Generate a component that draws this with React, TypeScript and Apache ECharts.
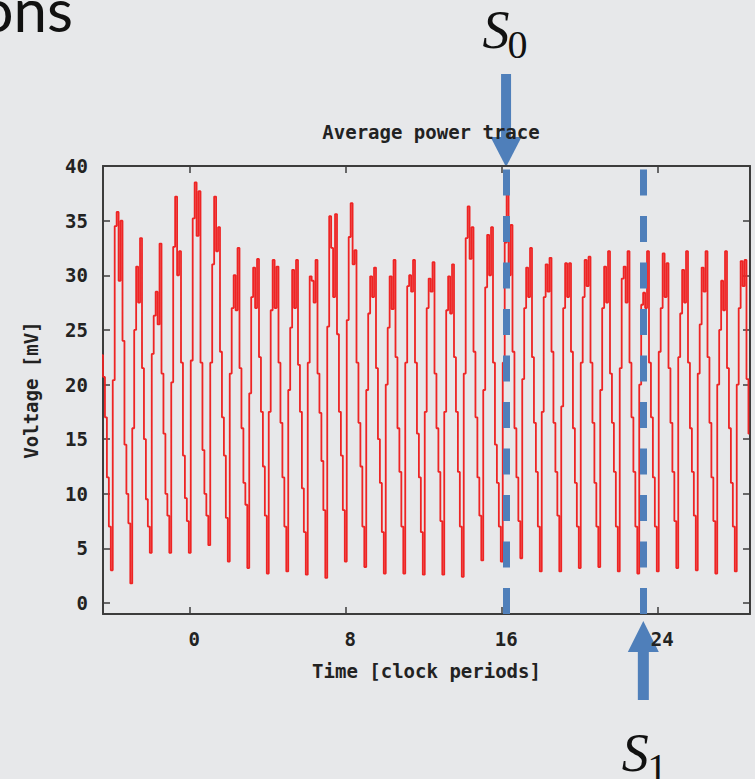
import React, { useEffect, useRef } from 'react';
import * as echarts from 'echarts';

// Sampling grid of the averaged trace (clock periods)
const sampleStart = -4.5;
const sampleStep = 0.1;

// Voltage samples [mV], split by time range
const traceEarly = [
  22.7, 20.7, 17, 11.5, 7,
  3.0, 20.4, 34.5, 35.8, 29.5, 35.0, 24, 14.5, 10, 7.3,
  1.8, 16, 25, 30.8, 27.5, 33.4, 21.5, 15, 9.5, 7,
  4.6, 22.8, 26.3, 28.5, 25.5, 32.9, 21, 15.5, 10, 8,
  4.6, 20.2, 32.6, 37.2, 30, 32.2, 22, 13.5, 9.6, 7.5,
  4.6, 22.2, 35.2, 38.5, 33.6, 37.7, 22, 14, 10, 8,
  5.3, 22, 31, 37.2, 32.2, 34.4, 23, 17, 13.5, 7.8,
  3.8, 21, 27, 30, 26.8, 32.5, 21.5, 16, 11, 9,
  3.2, 19.2, 28, 30.7, 27, 31.5, 22.5, 17.5, 12.5, 8,
];
const traceMid1 = [
  2.7, 17.5, 26.8, 31.4, 27, 30.8, 22, 16.5, 11.5, 7,
  2.9, 19.5, 25.2, 30.5, 27, 31.4, 21.8, 17.5, 10.5, 6.5,
  2.6, 22, 29.9, 29.5, 27.5, 31.4, 21, 17.4, 13, 8.5,
  2.3, 25.3, 35.4, 32.5, 28, 35.6, 24.6, 17.5, 13.5, 8.5,
  3.8, 25.9, 33.5, 36.6, 31, 32.3, 22, 16.5, 12.5, 7,
  3.3, 19.5, 26.5, 29.9, 28, 30.7, 21.5, 15, 11, 6.5,
  2.7, 20, 25.2, 29.9, 26.9, 31.4, 22.5, 16, 12, 7,
  2.7, 22, 29, 30, 28.5, 31.4, 22, 15.5, 11.5, 6.5,
];
const traceMid2 = [
  2.6, 17.5, 27, 29.7, 28.5, 31.2, 21, 16, 12, 7.5,
  2.6, 17.5, 26.8, 29.9, 26.5, 31, 22.5, 17.5, 12, 7,
  2.4, 21, 33.4, 36.3, 31.5, 34.4, 23, 17, 11.5, 8,
  3.9, 19.5, 28.9, 33.7, 30, 34.4, 22, 14.5, 11, 7,
  3.8, 22, 33, 37.4, 30, 34.6, 23, 16, 11.5, 7.5,
  4.1, 20.5, 27, 30.7, 28, 32.5, 22.5, 16.5, 12, 7,
  2.9, 17.5, 28, 31, 28.5, 31.6, 23, 16.5, 12, 8,
  2.9, 18, 27, 31.1, 28, 31.1, 23, 16, 11, 7,
];
const traceLate = [
  3.2, 22, 28, 31.4, 29, 31.7, 22, 16.5, 11, 7,
  3.3, 19.5, 27, 30.8, 27.5, 32.2, 21, 16.5, 12, 7,
  2.9, 21.5, 29.7, 30.8, 27.5, 32.2, 22, 17, 12, 7,
  2.7, 20, 27.3, 28.4, 27, 32.2, 22, 17, 11.5, 7,
  2.9, 23, 27, 32, 28, 31.1, 21.5, 16.5, 12, 7.5,
  3.2, 22.5, 26.5, 30.5, 27.5, 32.2, 22, 16, 12, 8,
  3.0, 21, 25.5, 30.7, 28.5, 32.2, 22.5, 16.5, 11.5, 7.5,
  2.7, 20, 25, 29.5, 26.8, 32.2, 21.5, 16, 11, 7,
  2.9, 20, 27, 31.3, 29, 31.4, 20.5, 15.5,
];

const xTicks = [0, 8, 16, 24];
const yTicks = [0, 5, 10, 15, 20, 25, 30, 35, 40];
const xRange = [-4.45, 28.73];
const yRange = [-1, 40];

const markerTimes = [16.22, 23.26];
const markerSubs = ['0', '1'];

const RED = '#ee2424';
const BLUE = '#4f7fba';
const FRAME = '#3c3c3c';
const BG = '#e7e8ea';
const MONO = '"DejaVu Sans Mono", monospace';

export default function App() {
  const ref = useRef<HTMLDivElement>(null);
  useEffect(() => {
    const chart = echarts.init(ref.current!, null, { renderer: 'svg' });
    const values = [...traceEarly, ...traceMid1, ...traceMid2, ...traceLate];
    const data = values.map((v, i) => [Math.round((sampleStart + i * sampleStep) * 100) / 100, v]);

    const frameAxisX = (pos: 'top' | 'bottom', labels: boolean) => ({
      type: 'value',
      position: pos,
      min: xRange[0],
      max: xRange[1],
      splitLine: { show: false },
      axisLine: { show: true, onZero: false, lineStyle: { color: FRAME, width: 2 } },
      axisTick: { show: true, inside: true, length: 7, customValues: xTicks, lineStyle: { color: FRAME, width: 1.5 } },
      axisLabel: {
        show: labels,
        customValues: xTicks,
        margin: 15,
        fontFamily: MONO,
        fontWeight: 'bold',
        fontSize: 19,
        color: '#222',
        padding: [0, 0, 0, 9],
      },
    });
    const frameAxisY = (pos: 'left' | 'right', labels: boolean) => ({
      type: 'value',
      position: pos,
      min: yRange[0],
      max: yRange[1],
      splitLine: { show: false },
      axisLine: { show: true, onZero: false, lineStyle: { color: FRAME, width: 2 } },
      axisTick: { show: true, inside: true, length: 7, customValues: yTicks, lineStyle: { color: FRAME, width: 1.5 } },
      axisLabel: {
        show: labels,
        customValues: yTicks,
        margin: 15,
        fontFamily: MONO,
        fontWeight: 'bold',
        fontSize: 19,
        color: '#222',
      },
    });

    const xMain: any = frameAxisX('bottom', true);
    xMain.name = 'Time [clock periods]';
    xMain.nameLocation = 'middle';
    xMain.nameGap = 47;
    xMain.nameTextStyle = { fontFamily: MONO, fontWeight: 'bold', fontSize: 19, color: '#222' };
    const yMain: any = frameAxisY('left', true);
    yMain.name = 'Voltage [mV]';
    yMain.nameLocation = 'middle';
    yMain.nameGap = 63;
    yMain.nameTextStyle = { fontFamily: MONO, fontWeight: 'bold', fontSize: 19, color: '#222' };

    chart.setOption({
      animation: false,
      backgroundColor: BG,
      title: {
        text: 'Average power trace',
        left: 426,
        top: 117,
        textAlign: 'center',
        textStyle: { fontFamily: MONO, fontWeight: 'bold', fontSize: 19, color: '#222' },
      },
      grid: { left: 103, right: 5, top: 166, bottom: 165, containLabel: false },
      xAxis: [xMain, frameAxisX('top', false)],
      yAxis: [yMain, frameAxisY('right', false)],
      series: [
        {
          type: 'line',
          xAxisIndex: 0,
          yAxisIndex: 0,
          data,
          step: 'middle',
          showSymbol: false,
          symbol: 'none',
          clip: true,
          lineStyle: { color: RED, width: 1.8 },
          markLine: {
            silent: true,
            symbol: ['none', 'none'],
            label: { show: false },
            lineStyle: { color: BLUE, width: 7, type: [26, 20.5], opacity: 1 },
            emphasis: { disabled: true },
            data: markerTimes.map((t) => ({ xAxis: t })),
          },
        },
      ],
    });

    const px = markerTimes.map((t) => chart.convertToPixel({ xAxisIndex: 0 }, t) as number);
    const serif = '"Liberation Serif", "DejaVu Serif", serif';
    chart.setOption({
      graphic: [
        {
          type: 'text',
          x: 73,
          y: 9,
          style: { text: 'ons', font: '60px Lato, "Open Sans", sans-serif', fill: '#111', textAlign: 'right', textVerticalAlign: 'middle' },
        },
        // S0 arrow (top, pointing down)
        { type: 'rect', shape: { x: px[0] - 5, y: 74, width: 10, height: 64 }, style: { fill: BLUE } },
        { type: 'polygon', shape: { points: [[px[0] - 15.5, 137], [px[0] + 15.5, 137], [px[0], 167]] }, style: { fill: BLUE } },
        { type: 'text', x: px[0] - 10, y: 30, style: { text: 'S', font: 'italic 54px ' + serif, fill: '#111', textAlign: 'center', textVerticalAlign: 'middle' } },
        { type: 'text', x: px[0] + 11.5, y: 44.5, style: { text: markerSubs[0], font: '40px ' + serif, fill: '#111', textAlign: 'center', textVerticalAlign: 'middle' } },
        // S1 arrow (bottom, pointing up)
        { type: 'rect', shape: { x: px[1] - 5.5, y: 651, width: 11, height: 49 }, style: { fill: BLUE } },
        { type: 'polygon', shape: { points: [[px[1] - 15.5, 652], [px[1] + 15.5, 652], [px[1], 621]] }, style: { fill: BLUE } },
        { type: 'text', x: px[1] - 8, y: 752.5, style: { text: 'S', font: 'italic 54px ' + serif, fill: '#111', textAlign: 'center', textVerticalAlign: 'middle' } },
        { type: 'text', x: px[1] + 14, y: 767.5, style: { text: markerSubs[1], font: '40px ' + serif, fill: '#111', textAlign: 'center', textVerticalAlign: 'middle' } },
      ],
    });

    return () => chart.dispose();
  }, []);
  return <div ref={ref} style={{ position: 'fixed', left: 0, top: 0, width: 755, height: 779 }} />;
}
